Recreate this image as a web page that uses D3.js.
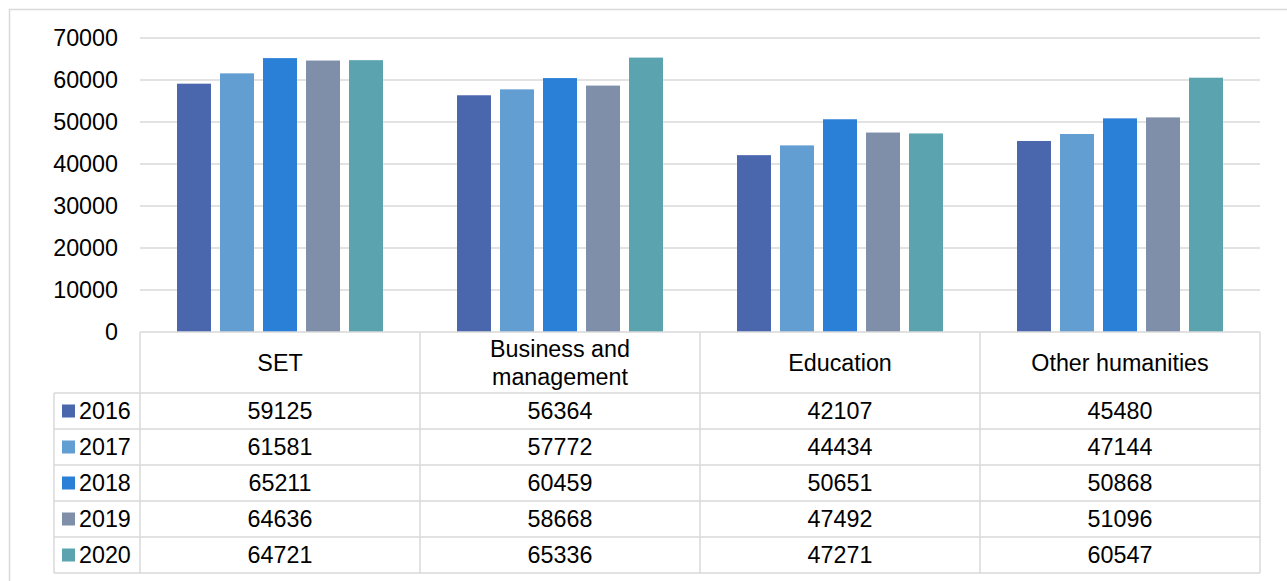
<!DOCTYPE html>
<html>
<head>
<meta charset="utf-8">
<script src="https://cdn.jsdelivr.net/npm/d3@7"></script>
<style>
  body { margin: 0; background: #fff; }
  text { font-family: "Liberation Sans", Arial, sans-serif; fill: #000; }
</style>
</head>
<body>
<div id="chart"></div>
<script>
const categories = ["SET", "Business and management", "Education", "Other humanities"];
const categoryLines = [["SET"], ["Business and", "management"], ["Education"], ["Other humanities"]];
const years = ["2016", "2017", "2018", "2019", "2020"];
const values2016 = [59125, 56364, 42107, 45480];
const values2017 = [61581, 57772, 44434, 47144];
const values2018 = [65211, 60459, 50651, 50868];
const values2019 = [64636, 58668, 47492, 51096];
const values2020 = [64721, 65336, 47271, 60547];
const yTicks = [0, 10000, 20000, 30000, 40000, 50000, 60000, 70000];

const series = [values2016, values2017, values2018, values2019, values2020];
const colors = ["#4a67ad", "#629ed1", "#2a7fd7", "#7f8fa9", "#5ba3ae"];

const W = 1287, H = 581;
const plot = { left: 140, right: 1260, top: 38, bottom: 332 };
const rowH = 36;
const headH = 61;
const tableLeft = 54;
const grid = "#d9d9d9";
const fontSize = "23.3px";

const svg = d3.select("#chart")
  .append("svg")
  .attr("width", W)
  .attr("height", H);

// outer chart border
svg.append("rect")
  .attr("x", 9.5).attr("y", 9.5)
  .attr("width", W + 20).attr("height", H + 20)
  .attr("fill", "none")
  .attr("stroke", grid)
  .attr("stroke-width", 1.5);

// scales
const x = d3.scaleBand()
  .domain(categories)
  .range([plot.left, plot.right])
  .padding(0);

const xInner = d3.scaleBand()
  .domain(years)
  .range([37, x.bandwidth() - 37])
  .paddingInner(0.21)
  .paddingOuter(0);

const y = d3.scaleLinear()
  .domain([0, 70000])
  .range([plot.bottom, plot.top]);

// gridlines
svg.append("g")
  .selectAll("line")
  .data(yTicks.filter(t => t > 0))
  .enter().append("line")
  .attr("x1", plot.left).attr("x2", plot.right)
  .attr("y1", d => y(d)).attr("y2", d => y(d))
  .attr("stroke", grid)
  .attr("stroke-width", 1.5);

// y axis labels
const yAxis = svg.append("g")
  .attr("transform", `translate(${plot.left - 22},0)`)
  .call(d3.axisLeft(y).tickValues(yTicks).tickSize(0).tickPadding(0).tickFormat(d3.format("d")));
yAxis.select(".domain").remove();
yAxis.selectAll("text")
  .style("font-size", fontSize)
  .style("font-family", "'Liberation Sans', Arial, sans-serif")
  .attr("fill", "#000");

// bars
const groups = svg.append("g")
  .selectAll("g")
  .data(years)
  .enter().append("g")
  .attr("fill", (d, i) => colors[i]);

groups.selectAll("rect")
  .data((yr, i) => series[i].map((v, j) => ({ year: yr, cat: categories[j], value: v })))
  .enter().append("rect")
  .attr("x", d => x(d.cat) + xInner(d.year))
  .attr("y", d => y(d.value))
  .attr("width", xInner.bandwidth())
  .attr("height", d => y(0) - y(d.value));

// data table
const tableBottom = plot.bottom + headH + rowH * years.length;
const table = svg.append("g").attr("stroke", grid).attr("stroke-width", 1.5);

// horizontal lines
table.append("line")
  .attr("x1", plot.left).attr("x2", plot.right)
  .attr("y1", plot.bottom).attr("y2", plot.bottom);
d3.range(years.length + 1).forEach(i => {
  const yy = plot.bottom + headH + i * rowH;
  table.append("line")
    .attr("x1", tableLeft).attr("x2", plot.right)
    .attr("y1", yy).attr("y2", yy);
});

// vertical lines
categories.concat(["end"]).forEach((c, i) => {
  const xx = plot.left + i * x.step();
  table.append("line")
    .attr("x1", xx).attr("x2", xx)
    .attr("y1", plot.bottom).attr("y2", tableBottom);
});
table.append("line")
  .attr("x1", tableLeft).attr("x2", tableLeft)
  .attr("y1", plot.bottom + headH).attr("y2", tableBottom);

// category headers
categoryLines.forEach((lines, i) => {
  const cx = x(categories[i]) + x.bandwidth() / 2;
  const cy = plot.bottom + headH / 2;
  lines.forEach((ln, k) => {
    svg.append("text")
      .attr("x", cx)
      .attr("y", cy + (k - (lines.length - 1) / 2) * 28)
      .attr("dy", "0.35em")
      .attr("text-anchor", "middle")
      .style("font-size", fontSize)
      .text(ln);
  });
});

// rows: legend key + values
years.forEach((yr, i) => {
  const cy = plot.bottom + headH + i * rowH + rowH / 2;
  svg.append("rect")
    .attr("x", 62).attr("y", cy - 6.5)
    .attr("width", 13).attr("height", 13)
    .attr("fill", colors[i]);
  svg.append("text")
    .attr("x", 79)
    .attr("y", cy)
    .attr("dy", "0.35em")
    .style("font-size", fontSize)
    .text(yr);
  series[i].forEach((v, j) => {
    svg.append("text")
      .attr("x", x(categories[j]) + x.bandwidth() / 2)
      .attr("y", cy)
      .attr("dy", "0.35em")
      .attr("text-anchor", "middle")
      .style("font-size", fontSize)
      .text(v);
  });
});
</script>
</body>
</html>
